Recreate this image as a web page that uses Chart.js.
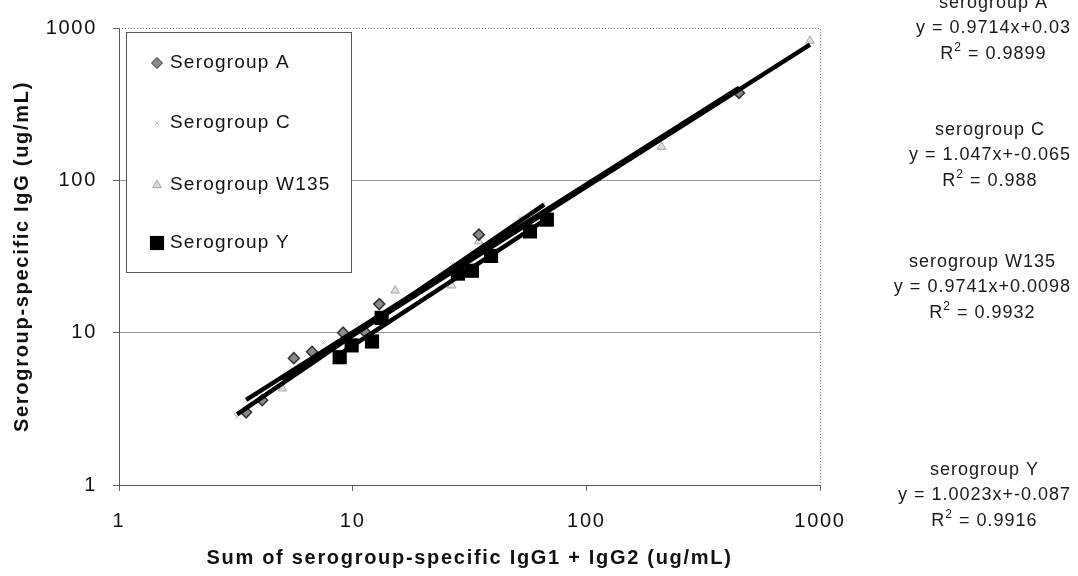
<!DOCTYPE html>
<html lang="en">
<head>
    <meta charset="UTF-8">
    <title>Serogroup-specific IgG vs IgG1 + IgG2</title>
    <style>
        body {
            margin: 0;
            padding: 0;
            background-color: #ffffff;
        }
        #wrap {
            width: 1078px;
            height: 576px;
        }
    </style>
</head>
<body>
    <div id="wrap">
        <canvas id="graphCanvas" width="1078" height="576"></canvas>
    </div>

    <script src="https://cdn.jsdelivr.net/npm/chart.js"></script>
    <script>
        // axis decades
        const axisTicks = [1, 10, 100, 1000];

        // Serogroup A (x = sum IgG1 + IgG2, y = IgG)
        const groupAx = [3.5, 4.1, 5.6, 6.7, 9.1, 11.3, 13.0, 34.7, 450];
        const groupAy = [3.0, 3.6, 6.8, 7.5, 10.0, 10.1, 15.4, 44, 375];

        // Serogroup C
        const groupCx = [3.2, 7.5, 10.4, 26.5, 52, 66];
        const groupCy = [2.8, 8.6, 11.4, 28, 57, 70];

        // Serogroup W135
        const groupWx = [5.0, 15.2, 26.5, 34.7, 210, 906];
        const groupWy = [4.3, 18.9, 20.4, 39.8, 166, 825];

        // Serogroup Y
        const groupYx = [8.8, 9.9, 12.1, 13.3, 28.2, 32.4, 39.1, 57.4, 67.8];
        const groupYy = [6.9, 8.25, 8.75, 12.5, 24.4, 25.5, 31.9, 46.2, 55.2];

        // trendline fits (log-log), as printed on the chart
        const fitNames = ['serogroup A', 'serogroup C', 'serogroup W135', 'serogroup Y'];
        const fitSlopes = [0.9714, 1.047, 0.9741, 1.0023];
        const fitIntercepts = ['0.03', '-0.065', '0.0098', '-0.087'];
        const fitR2 = ['0.9899', '0.988', '0.9932', '0.9916'];

        const legendLabels = ['Serogroup A', 'Serogroup C', 'Serogroup W135', 'Serogroup Y'];

        function toPoints(xs, ys) {
            return xs.map(function (x, i) { return { x: x, y: ys[i] }; });
        }

        // two end points of a fitted line over the range of its series
        function fitLine(xs, k) {
            const lo = Math.min(...xs), hi = Math.max(...xs);
            const b = parseFloat(fitIntercepts[k]);
            return [lo, hi].map(function (x) {
                return { x: x, y: Math.pow(10, fitSlopes[k] * Math.log10(x) + b) };
            });
        }

        const groupsX = [groupAx, groupCx, groupWx, groupYx];

        const markerStyles = [
            { pointStyle: 'rectRot', radius: 5.5, bg: '#8a8a8a', border: '#333333', bw: 1.5 },
            { pointStyle: 'crossRot', radius: 3, bg: '#cccccc', border: '#c4c4c4', bw: 1 },
            { pointStyle: 'triangle', radius: 5, bg: '#dddddd', border: '#a8a8a8', bw: 1 },
            { pointStyle: 'rect', radius: 10, bg: '#000000', border: '#000000', bw: 0 }
        ];

        const scatterSets = [
            toPoints(groupAx, groupAy),
            toPoints(groupCx, groupCy),
            toPoints(groupWx, groupWy),
            toPoints(groupYx, groupYy)
        ].map(function (pts, i) {
            const m = markerStyles[i];
            return {
                type: 'scatter',
                label: legendLabels[i],
                data: pts,
                pointStyle: m.pointStyle,
                pointRadius: m.radius,
                pointBackgroundColor: m.bg,
                pointBorderColor: m.border,
                pointBorderWidth: m.bw,
                order: 2
            };
        });

        const lineSets = groupsX.map(function (xs, i) {
            return {
                type: 'line',
                label: fitNames[i] + ' fit',
                data: fitLine(xs, i),
                borderColor: '#000000',
                borderWidth: 4.5,
                pointRadius: 0,
                fill: false,
                order: 1
            };
        });

        const spacing = function (chart) {
            chart.ctx.letterSpacing = '1.7px';
        };

        // dotted top/right frame
        const framePlugin = {
            id: 'frame',
            beforeLayout: spacing,
            beforeDraw: spacing,
            beforeDatasetsDraw: function (chart) {
                const a = chart.chartArea, c = chart.ctx;
                c.save();
                c.strokeStyle = '#777777';
                c.lineWidth = 1;
                c.setLineDash([1, 2]);
                c.beginPath();
                c.moveTo(a.left, a.top + 0.5);
                c.lineTo(a.right + 0.5, a.top + 0.5);
                c.lineTo(a.right + 0.5, a.bottom);
                c.stroke();
                c.restore();
            }
        };

        function drawMarker(c, i, x, y) {
            const m = markerStyles[i];
            Chart.helpers.drawPoint(c, {
                pointStyle: m.pointStyle,
                radius: m.radius,
                rotation: 0,
                borderWidth: m.bw
            }, x, y);
        }

        const noteFont = '18px Arial, "Liberation Sans", sans-serif';
        const supFont = '12px Arial, "Liberation Sans", sans-serif';

        // legend box inside the plot + fit equations on the right
        const notesPlugin = {
            id: 'notes',
            afterDraw: function (chart) {
                const c = chart.ctx;
                c.save();

                // legend
                c.fillStyle = '#ffffff';
                c.fillRect(126, 32, 225, 240);
                c.strokeStyle = '#555555';
                c.lineWidth = 1;
                c.strokeRect(126.5, 32.5, 225, 240);
                const rows = [63, 123, 185, 243];
                c.font = '19px Arial, "Liberation Sans", sans-serif';
                c.letterSpacing = '1.2px';
                c.textBaseline = 'middle';
                c.textAlign = 'left';
                rows.forEach(function (yy, i) {
                    const m = markerStyles[i];
                    c.fillStyle = m.bg;
                    c.strokeStyle = m.border;
                    drawMarker(c, i, 157, yy);
                    c.fillStyle = '#111111';
                    c.fillText(legendLabels[i], 170, yy);
                });

                // fit equations, each block centred so its widest line ends near x=1071
                const tops = [3, 130, 262, 470];
                c.fillStyle = '#1a1a1a';
                c.letterSpacing = '1px';
                tops.forEach(function (t, i) {
                    const eq = 'y = ' + fitSlopes[i] + 'x+' + fitIntercepts[i];
                    const rest = ' = ' + fitR2[i];
                    c.font = noteFont;
                    const wName = c.measureText(fitNames[i]).width;
                    const wEq = c.measureText(eq).width;
                    const wR = c.measureText('R').width;
                    const wRest = c.measureText(rest).width;
                    c.font = supFont;
                    const wSup = c.measureText('2').width;
                    const wR2 = wR + wSup + wRest;
                    const cx = 1071 - Math.max(wName, wEq, wR2) / 2;

                    c.font = noteFont;
                    c.textAlign = 'center';
                    c.fillText(fitNames[i], cx, t);
                    c.fillText(eq, cx, t + 25);
                    // R squared with superscript
                    const x0 = cx - wR2 / 2;
                    c.textAlign = 'left';
                    c.fillText('R', x0, t + 51);
                    c.font = supFont;
                    c.fillText('2', x0 + wR, t + 45);
                    c.font = noteFont;
                    c.fillText(rest, x0 + wR + wSup, t + 51);
                });
                c.restore();
            }
        };

        const tickFont = { family: 'Arial, "Liberation Sans", sans-serif', size: 20 };
        const titleFont = { family: 'Arial, "Liberation Sans", sans-serif', size: 20, weight: 'bold' };

        new Chart(document.getElementById('graphCanvas'), {
            type: 'scatter',
            data: { datasets: lineSets.concat(scatterSets) },
            options: {
                responsive: false,
                animation: false,
                layout: { padding: { top: 20, right: 258, left: 0, bottom: 0 } },
                plugins: {
                    legend: { display: false },
                    tooltip: { enabled: false }
                },
                scales: {
                    x: {
                        type: 'logarithmic',
                        min: 1,
                        max: 1000,
                        afterBuildTicks: function (s) {
                            s.ticks = axisTicks.map(function (v) { return { value: v }; });
                        },
                        afterFit: function (s) { s.height = 91; },
                        ticks: {
                            callback: function (v) { return String(v); },
                            font: tickFont,
                            color: '#111111',
                            padding: 18,
                            maxRotation: 0,
                            autoSkip: false
                        },
                        grid: { drawOnChartArea: false, tickLength: 6, tickColor: '#666666' },
                        border: { color: '#555555' },
                        title: {
                            display: true,
                            text: 'Sum of serogroup-specific IgG1 + IgG2 (ug/mL)',
                            font: titleFont,
                            color: '#111111',
                            padding: { top: 0, bottom: 6 }
                        }
                    },
                    y: {
                        type: 'logarithmic',
                        min: 1,
                        max: 1000,
                        afterBuildTicks: function (s) {
                            s.ticks = axisTicks.map(function (v) { return { value: v }; });
                        },
                        afterFit: function (s) { s.width = 119; },
                        ticks: {
                            callback: function (v) { return String(v); },
                            font: tickFont,
                            color: '#111111',
                            padding: 16
                        },
                        grid: {
                            color: function (ctx) {
                                const v = ctx.tick && ctx.tick.value;
                                return (v === 10 || v === 100) ? '#999999' : 'rgba(0,0,0,0)';
                            },
                            tickLength: 6,
                            tickColor: '#666666'
                        },
                        border: { color: '#555555' },
                        title: {
                            display: true,
                            text: 'Serogroup-specific IgG (ug/mL)',
                            font: titleFont,
                            color: '#111111',
                            padding: { top: 10, bottom: 0 }
                        }
                    }
                }
            },
            plugins: [framePlugin, notesPlugin]
        });
    </script>
</body>
</html>
